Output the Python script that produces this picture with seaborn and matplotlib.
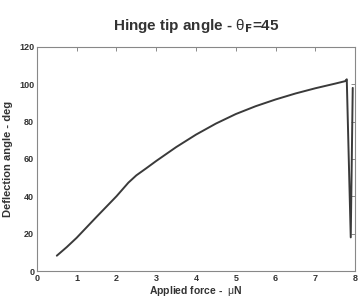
import matplotlib
matplotlib.use("Agg")
import matplotlib.pyplot as plt
import seaborn as sns
import pandas as pd

force = [0.5, 0.75, 1.0, 1.5, 2.0, 2.3, 2.5, 2.75, 3.0, 3.5, 4.0, 4.5,
         5.0, 5.5, 6.0, 6.5, 7.0, 7.5, 7.75, 7.79, 7.89, 7.94]
angle = [8.2, 12.8, 17.8, 29.0, 40.0, 47.3, 51.2, 55.0, 58.9, 66.3, 73.0, 78.9,
         84.0, 88.2, 91.8, 95.0, 97.8, 100.3, 101.6, 102.6, 18.0, 98.0]
xticks = [0, 1, 2, 3, 4, 5, 6, 7, 8]
yticks = [0, 20, 40, 60, 80, 100, 120]

sns.set_style("white")
plt.rcParams['font.family'] = ['Liberation Sans', 'DejaVu Sans']
plt.rcParams['mathtext.fontset'] = 'custom'
plt.rcParams['mathtext.rm'] = 'Liberation Sans'
plt.rcParams['mathtext.it'] = 'Liberation Sans'

df = pd.DataFrame({"force": force, "angle": angle})

fig = plt.figure(figsize=(3.62, 2.97), dpi=100)
ax = fig.add_axes([0.102, 0.0875, 0.879, 0.755])
sns.lineplot(data=df, x="force", y="angle", sort=False, estimator=None,
             color="#3a3a3a", linewidth=1.4, ax=ax)

ax.set_xlim(0, 8)
ax.set_ylim(0, 120)
ax.set_xticks(xticks)
ax.set_yticks(yticks)
ax.set_xticklabels([str(v) for v in xticks], fontsize=6.5, fontweight='bold', color='#333333')
ax.set_yticklabels([str(v) for v in yticks], fontsize=6.5, fontweight='bold', color='#333333')
ax.tick_params(direction='in', length=3, width=0.6, color='#777777', top=True, right=True, pad=2)
for s in ax.spines.values():
    s.set_color('#888888')
    s.set_linewidth(0.8)

ax.set_title(r"Hinge tip angle - $\theta_{\mathbf{F}}$=45", fontsize=11, fontweight='bold',
             color='#333333', pad=12)
ax.set_xlabel(r"Applied force -  $\mu$N", fontsize=7.5, fontweight='bold', color='#333333', labelpad=1)
ax.set_ylabel("Deflection angle - deg", fontsize=8, fontweight='bold', color='#333333', labelpad=4)

fig.savefig("out.png", dpi=100)
